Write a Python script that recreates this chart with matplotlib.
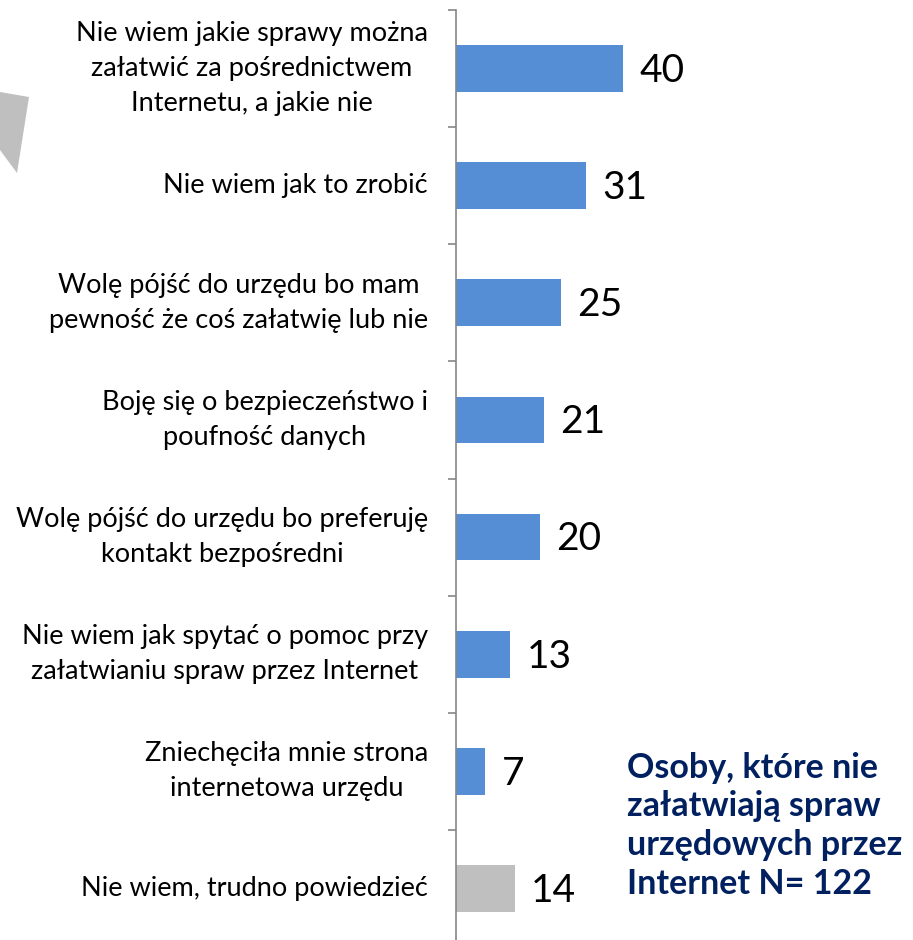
import matplotlib.pyplot as plt
from matplotlib.patches import Polygon

# Reasons for not handling official matters online (%), N = 122
categories = [
    "Nie wiem jakie sprawy można\nzałatwić za pośrednictwem\nInternetu, a jakie nie",
    "Nie wiem jak to zrobić",
    "Wolę pójść do urzędu bo mam\npewność że coś załatwię lub nie",
    "Boję się o bezpieczeństwo i\npoufność danych",
    "Wolę pójść do urzędu bo preferuję\nkontakt bezpośredni",
    "Nie wiem jak spytać o pomoc przy\nzałatwianiu spraw przez Internet",
    "Zniechęciła mnie strona\ninternetowa urzędu",
    "Nie wiem, trudno powiedzieć",
]
values = [40, 31, 25, 21, 20, 13, 7, 14]
bar_colors = ["#558ED5"] * 7 + ["#BFBFBF"]
note = "Osoby, które nie\nzałatwiają spraw\nurzędowych przez\nInternet N= 122"

W, H = 913, 940
fig = plt.figure(figsize=(W / 100, H / 100), dpi=100)
plt.rcParams['font.family'] = ['Lato', 'DejaVu Sans']

# axes: left spine at x=456px, top at y=10px, 117px per category
ax = fig.add_axes([456 / W, (H - 947) / H, (W - 456) / W, 937 / H])
y = list(range(len(values)))
ax.barh(y, values, height=0.4, color=bar_colors)
ax.set_ylim(len(values) - 0.5, -0.5)
ax.set_xlim(0, (W - 456) / 4.18)

for i, (cat, v) in enumerate(zip(categories, values)):
    ax.text(-6.7, i, cat, ha='right', va='center', multialignment='center',
            fontsize=19.5, color='black', linespacing=1.5, clip_on=False)
    ax.text(v + 4, i + 0.02, str(v), ha='left', va='center', fontsize=28, color='black')

for s in ['top', 'right', 'bottom']:
    ax.spines[s].set_visible(False)
ax.spines['left'].set_color('#868686')
ax.spines['left'].set_linewidth(1.2)
ax.set_xticks([])
ax.set_yticks([i - 0.5 for i in range(len(values) + 1)])
ax.set_yticklabels([])
ax.tick_params(axis='y', direction='out', length=6, width=1.2, color='#868686')

# gray arrow fragment at the left edge
pts = [(0, 92), (29, 97), (17, 173), (0, 150)]
fig.patches.append(Polygon([(x / W, 1 - yy / H) for x, yy in pts], closed=True,
                           transform=fig.transFigure, facecolor='#BFBFBF',
                           edgecolor='none'))

fig.text(627 / W, 1 - 752 / H, note, ha='left', va='top', fontsize=24.5,
         fontweight='bold', color='#002060', linespacing=1.25)

fig.savefig("out.png", dpi=100)
